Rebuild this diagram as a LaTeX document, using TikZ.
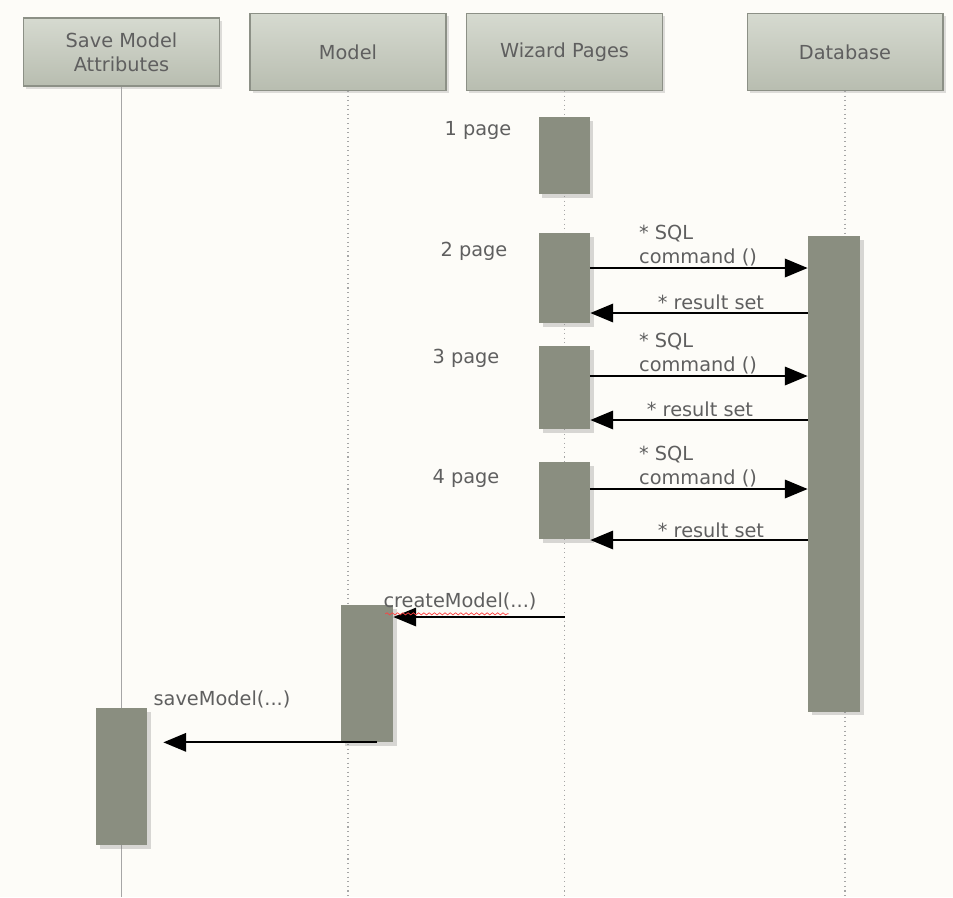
\documentclass[tikz,border=0pt]{standalone}
\usepackage{fontspec}
\setmainfont{DejaVu Sans}
\usepackage{xcolor}
\usepackage{tikz}
\usetikzlibrary{positioning, arrows.meta, shadows, calc, decorations.pathmorphing}

\begin{document}
\begin{tikzpicture}[x=0.02cm, y=-0.02cm, every node/.style={font=\fontsize{11}{13.6}\selectfont, text=colT}]
  % Define colors
  \definecolor{colBg}{RGB}{253,252,248}   % page - off white
  \definecolor{colT}{RGB}{95,95,95}       % text - grey
  \definecolor{colA}{RGB}{138,142,128}    % activation - grey green
  \definecolor{colHt}{RGB}{214,218,208}   % header top
  \definecolor{colHm}{RGB}{232,235,228}   % header middle
  \definecolor{colHb}{RGB}{184,189,176}   % header bottom
  \definecolor{colHd}{RGB}{140,144,134}   % header border

  \tikzset{
    head/.style={draw=colHd, line width=0.6pt, top color=colHt, middle color=colHm,
      bottom color=colHb, minimum width=3.92cm, minimum height=1.54cm, align=center,
      drop shadow={opacity=0.25, shadow xshift=1.5pt, shadow yshift=-1.5pt}},
    act/.style={fill=colA, draw=none, inner sep=0pt, minimum width=1.02cm,
      drop shadow={opacity=0.3, shadow xshift=2pt, shadow yshift=-2pt}},
    life/.style={gray!70, line width=0.6pt, dotted},
    msg/.style={black, line width=1.2pt, -{Triangle[length=13pt, width=10.5pt]}}
  }

  % Background
  \fill[colBg] (0,0) rectangle (953,897);
  \useasboundingbox (0,0) rectangle (953,897);

  % Lifeline heads
  \node[head, minimum height=1.36cm] (sav) at (121.5,52) {Save Model\\Attributes};
  \node[head] (mdl) at (348,52) {Model};
  \node[head] (wiz) at (564.5,52) {Wizard Pages};
  \node[head] (dbh) at (845,52) {Database};

  % Lifelines
  \draw[gray!70, line width=0.6pt] (sav.south) -- (sav.south |- 0,897);
  \foreach \h in {mdl, wiz, dbh} {
    \draw[life] (\h.south) -- (\h.south |- 0,897);
  }

  % Activation bars
  \node[act, minimum height=1.54cm] (wp1) at (564,155.5) {};
  \node[act, minimum height=1.80cm] (wp2) at (564.5,278) {};
  \node[act, minimum height=1.66cm] (wp3) at (564.5,387.5) {};
  \node[act, minimum height=1.54cm] (wp4) at (564.5,500.5) {};
  \node[act, minimum height=9.52cm, minimum width=1.04cm] (dbact) at (834,474) {};
  \node[act, minimum height=2.74cm, minimum width=1.04cm] (mdlact) at (367,673.5) {};
  \node[act, minimum height=2.74cm] (savact) at (121.5,776.5) {};

  % Page labels
  \node (lp1) at (478,130) {1 page};
  \node (lp2) at (474,251) {2 page};
  \node (lp3) at (466,358) {3 page};
  \node (lp4) at (466,478) {4 page};

  % SQL calls and result sets
  \foreach \b/\ys/\yr in {wp2/268/313, wp3/376/420, wp4/489/540} {
    \draw[msg] (\b.east |- 0,\ys) -- (dbact.west |- 0,\ys);
    \draw[msg] (dbact.west |- 0,\yr) -- (\b.east |- 0,\yr);
  }
  \node[align=left] (sql2) at (698,246) {* SQL\\command ()};
  \node[align=left] (sql3) at (698,354) {* SQL\\command ()};
  \node[align=left] (sql4) at (698,467) {* SQL\\command ()};
  \node (res2) at (711,302) {* result set};
  \node (res3) at (700,409) {* result set};
  \node (res4) at (711,530) {* result set};

  % Model creation and saving
  \draw[msg] (wiz.south |- 0,617) -- (mdlact.east |- 0,617);
  \node (crt) at (460,601) {createModel(...)};
  \draw[red!75, line width=0.4pt, decorate, decoration={snake, amplitude=0.6pt, segment length=3pt}]
    ($(crt.south west)+(8,-2)$) -- ($(crt.south east)+(-34,-2)$);
  \draw[msg] ($(mdlact.south)+(10,0)$) -- ($(savact.east |- mdlact.south)+(16,0)$);
  \node (svm) at (222,699) {saveModel(...)};
\end{tikzpicture}
\end{document}
